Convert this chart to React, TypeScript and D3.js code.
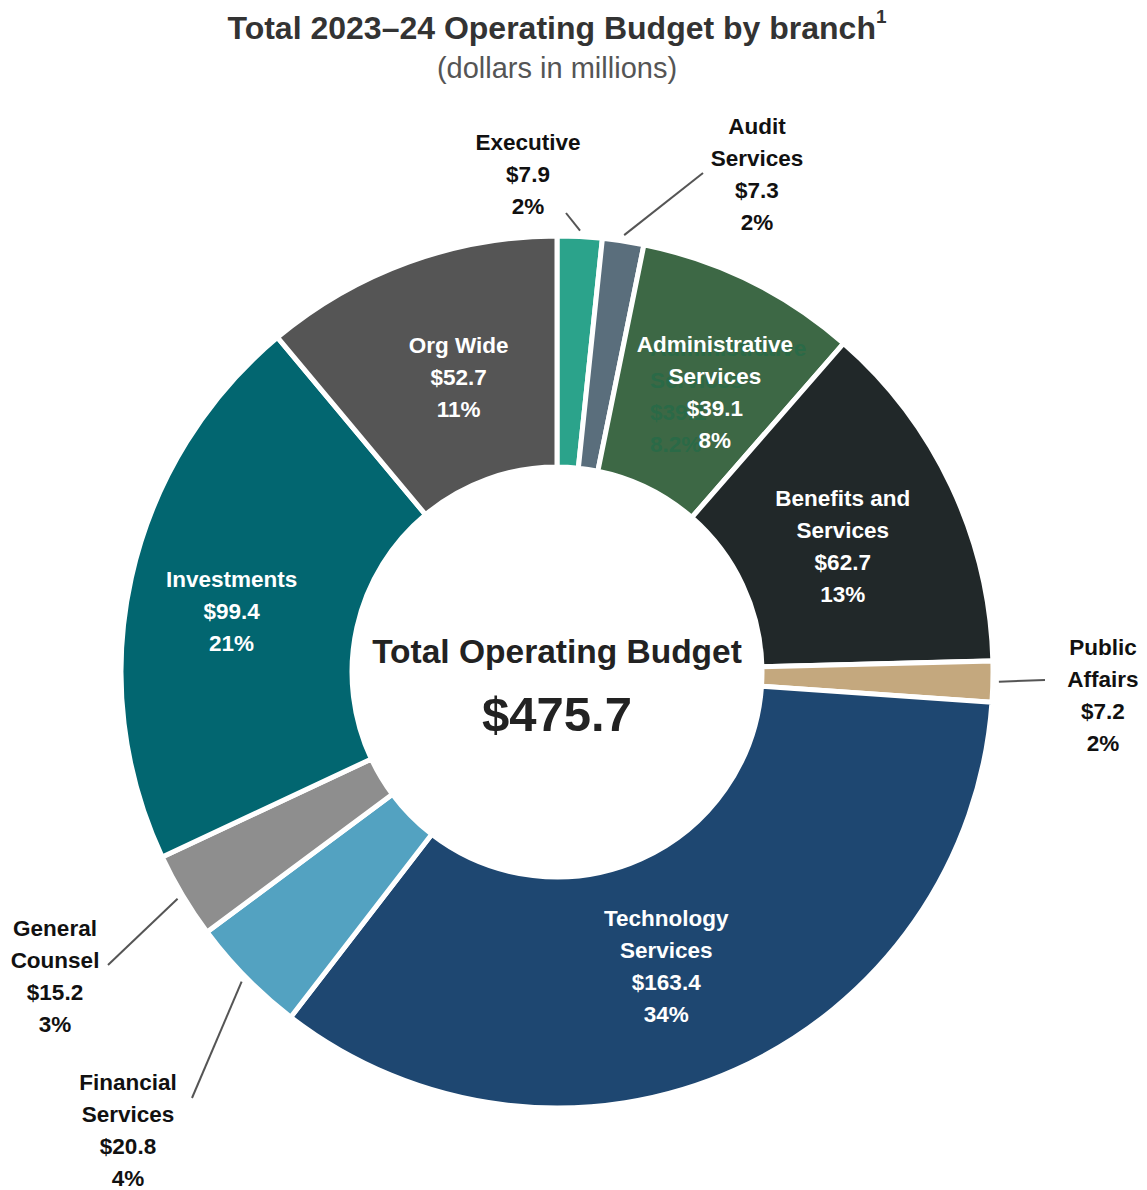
import React from "react";
import * as d3 from "d3";

// budget by branch, dollars in millions, clockwise from 12 o'clock
const branches = [
  "Executive",
  "Audit Services",
  "Administrative Services",
  "Benefits and Services",
  "Public Affairs",
  "Technology Services",
  "Financial Services",
  "General Counsel",
  "Investments",
  "Org Wide",
];
const amounts = [7.9, 7.3, 39.1, 62.7, 7.2, 163.4, 20.8, 15.2, 99.4, 52.7];
const labelLines = [
  ["Executive"],
  ["Audit", "Services"],
  ["Administrative", "Services"],
  ["Benefits and", "Services"],
  ["Public", "Affairs"],
  ["Technology", "Services"],
  ["Financial", "Services"],
  ["General", "Counsel"],
  ["Investments"],
  ["Org Wide"],
];
const colors = [
  "#2ba38b",
  "#5a6e7c",
  "#3d6845",
  "#212829",
  "#c4a87e",
  "#1e4771",
  "#53a2c1",
  "#8e8e8e",
  "#026670",
  "#555555",
];

const W = 1147;
const H = 1190;
const cx = 557;
const cy = 672;
const outerR = 436;
const innerR = 205;
const lineH = 32;
const font = "'Liberation Sans', Arial, sans-serif";

// outside labels: text position + outer end of the leader line
const outsideLayout: Record<string, { x: number; y: number; lx: number; ly: number }> = {
  Executive: { x: 528, y: 142, lx: 566, ly: 213 },
  "Audit Services": { x: 757, y: 126, lx: 703, ly: 173 },
  "Public Affairs": { x: 1103, y: 647, lx: 1045, ly: 680 },
  "General Counsel": { x: 55, y: 928, lx: 108, ly: 965 },
  "Financial Services": { x: 128, y: 1082, lx: 192, ly: 1098 },
};
// small nudges for labels drawn inside the ring
const insideNudge: Record<string, [number, number]> = {
  "Administrative Services": [17, 6],
  "Benefits and Services": [-2, 10],
  "Technology Services": [-21, 4],
  Investments: [-15, 8],
  "Org Wide": [10, 4],
};

export default function App() {
  const total = d3.sum(amounts);
  const data = branches.map((name, i) => ({ name, value: amounts[i], i }));

  const pie = d3
    .pie<any>()
    .sort(null)
    .value((d) => d.value);
  const arcs = pie(data);

  const arc = d3.arc<any>().innerRadius(innerR).outerRadius(outerR);
  const labelArc = d3.arc<any>().innerRadius(318).outerRadius(318);
  const leaderArc = d3.arc<any>().innerRadius(442).outerRadius(442);

  const money = (v: number) => "$" + d3.format(".1f")(v);
  const pct = (v: number) => Math.round((v / total) * 100) + "%";

  return (
    <svg
      width={W}
      height={H}
      style={{ position: "absolute", left: 0, top: 0, background: "#fff" }}
      fontFamily={font}
    >
      <text
        x={cx}
        y={28}
        textAnchor="middle"
        dominantBaseline="central"
        fontSize={32}
        fontWeight="bold"
        fill="#333"
      >
        Total 2023–24 Operating Budget by branch
        <tspan fontSize={19} dy={-12}>
          1
        </tspan>
      </text>
      <text
        x={cx}
        y={68}
        textAnchor="middle"
        dominantBaseline="central"
        fontSize={29}
        fill="#555"
      >
        (dollars in millions)
      </text>

      <g transform={`translate(${cx},${cy})`}>
        {arcs.map((a) => (
          <path
            key={a.data.name}
            d={arc(a) as string}
            fill={colors[a.data.i]}
            stroke="#fff"
            strokeWidth={5}
            strokeLinejoin="miter"
          />
        ))}

        {arcs.map((a) => {
          const lines = [...labelLines[a.data.i], money(a.data.value), pct(a.data.value)];
          const lay = outsideLayout[a.data.name];
          if (lay) {
            const [sx, sy] = leaderArc.centroid(a);
            return (
              <g key={a.data.name}>
                <line
                  x1={sx}
                  y1={sy}
                  x2={lay.lx - cx}
                  y2={lay.ly - cy}
                  stroke="#555"
                  strokeWidth={2}
                />
                {lines.map((t, k) => (
                  <text
                    key={k}
                    x={lay.x - cx}
                    y={lay.y - cy + k * lineH}
                    textAnchor="middle"
                    dominantBaseline="central"
                    fontSize={22.5}
                    fontWeight="bold"
                    fill="#111"
                  >
                    {t}
                  </text>
                ))}
              </g>
            );
          }
          const [mx, my] = labelArc.centroid(a);
          const [nx, ny] = insideNudge[a.data.name] || [0, 0];
          const x0 = mx + nx;
          const y0 = my + ny - ((lines.length - 1) * lineH) / 2;
          const isAdmin = a.data.name === "Administrative Services";
          // an older, left-aligned copy of this label shows through in the original
          const ghost = [
            ...labelLines[a.data.i],
            money(a.data.value),
            d3.format(".1%")(a.data.value / total),
          ];
          return (
            <g key={a.data.name}>
              {isAdmin &&
                ghost.map((t, k) => (
                  <text
                    key={"g" + k}
                    x={x0 - 65}
                    y={y0 + 4 + k * lineH}
                    textAnchor="start"
                    dominantBaseline="central"
                    fontSize={22.5}
                    fontWeight="bold"
                    fill="#2a6a47"
                  >
                    {t}
                  </text>
                ))}
              {lines.map((t, k) => (
                <text
                  key={k}
                  x={x0}
                  y={y0 + k * lineH}
                  textAnchor="middle"
                  dominantBaseline="central"
                  fontSize={22.5}
                  fontWeight="bold"
                  fill="#fff"
                >
                  {t}
                </text>
              ))}
            </g>
          );
        })}

        <text
          x={0}
          y={651 - cy}
          textAnchor="middle"
          dominantBaseline="central"
          fontSize={33.5}
          fontWeight="bold"
          fill="#222"
        >
          Total Operating Budget
        </text>
        <text
          x={0}
          y={714 - cy}
          textAnchor="middle"
          dominantBaseline="central"
          fontSize={49}
          fontWeight="bold"
          fill="#222"
        >
          {money(total)}
        </text>
      </g>
    </svg>
  );
}
